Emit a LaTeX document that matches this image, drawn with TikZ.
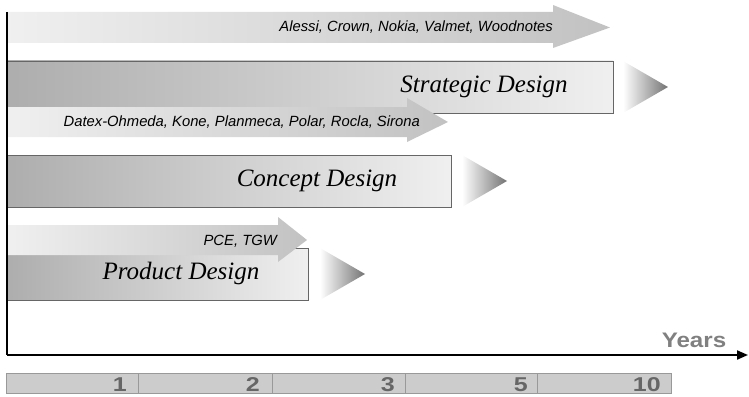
\documentclass[tikz,border=0pt]{standalone}
\usepackage{fontspec}
\setmainfont{Liberation Serif}
\setsansfont{Liberation Sans}
\usetikzlibrary{arrows.meta}
\tikzset{
  phase/.style={left color=black!32, right color=black!6},
  edge/.style={draw=black!60, line width=0.8pt},
  tri/.style={left color=white, right color=black!55},
  flow/.style={left color=black!6, right color=black!24},
  big/.style={font=\fontsize{25}{28}\selectfont\itshape, inner sep=0pt},
  small/.style={font=\sffamily\itshape\fontsize{14.8}{16}\selectfont, inner sep=0pt},
  num/.style={font=\sffamily\bfseries\fontsize{20}{21}\selectfont, text=black!60, inner sep=0pt, anchor=east, xscale=1.25, transform shape},
  cell/.style={draw=black!40, line width=0.8pt, fill=black!20}
}
\begin{document}
\begin{tikzpicture}[x=1pt,y=-1pt]
\useasboundingbox (0,0) rectangle (749,396);
% top arrow
\path[flow] (8,12) -- (553,12) -- (553,5) -- (610,27.5) -- (553,48) -- (553,43) -- (8,43) -- cycle;
\node[small, anchor=east] (alessi) at (553,27.5) {Alessi, Crown, Nokia, Valmet, Woodnotes};
% strategic
\path[phase] (8,61) rectangle (613,113);
\draw[edge] (8,61) -- (613,61) -- (613,113) -- (8,113);
\path[tri] (623,61) -- (668,87) -- (623,113) -- cycle;
\node[big] (strat) at (484,87) {Strategic Design};
% datex arrow
\path[flow] (8,107) -- (407,107) -- (407,98) -- (448,122) -- (407,142) -- (407,137) -- (8,137) -- cycle;
\node[small, anchor=east] (datex) at (420,122) {Datex-Ohmeda, Kone, Planmeca, Polar, Rocla, Sirona};
% concept
\path[phase] (8,155) rectangle (451,207);
\draw[edge] (8,155) -- (451,155) -- (451,207) -- (8,207);
\path[tri] (462,155) -- (507,181) -- (462,207) -- cycle;
\node[big] (concept) at (317,181) {Concept Design};
% product
\path[phase] (8,248) rectangle (308,300);
\draw[edge] (8,248) -- (308,248) -- (308,300) -- (8,300);
\path[tri] (320,248) -- (365,274) -- (320,300) -- cycle;
\node[big] (product) at (181,273) {Product Design};
% PCE arrow
\path[flow] (8,225) -- (278,225) -- (278,217) -- (307,240) -- (278,262) -- (278,255) -- (8,255) -- cycle;
\node[small, anchor=east] (pce) at (277,241) {PCE, TGW};
% axes
\coordinate (o) at (7,355);
\coordinate (top) at (7,12);
\coordinate (xend) at (748,355);
\draw[line width=2pt] (top) -- (o);
\draw[line width=2pt, -{Triangle[length=11pt,width=9pt]}] (o) -- (xend);
\node[font=\sffamily\bfseries\fontsize{21}{22}\selectfont, text=black!50, inner sep=0pt, xscale=1.15, transform shape] (years) at (694,340) {Years};
% bar
\draw[cell] (6,373) rectangle (138,393);
\draw[cell] (138,373) rectangle (272,393);
\draw[cell] (272,373) rectangle (405,393);
\draw[cell] (405,373) rectangle (537,393);
\draw[cell] (537,373) rectangle (671,393);
\node[num] (n1) at (127,385) {1};
\node[num] (n2) at (260,385) {2};
\node[num] (n3) at (395,385) {3};
\node[num] (n5) at (528,385) {5};
\node[num] (n10) at (661,385) {10};
\end{tikzpicture}
\end{document}
